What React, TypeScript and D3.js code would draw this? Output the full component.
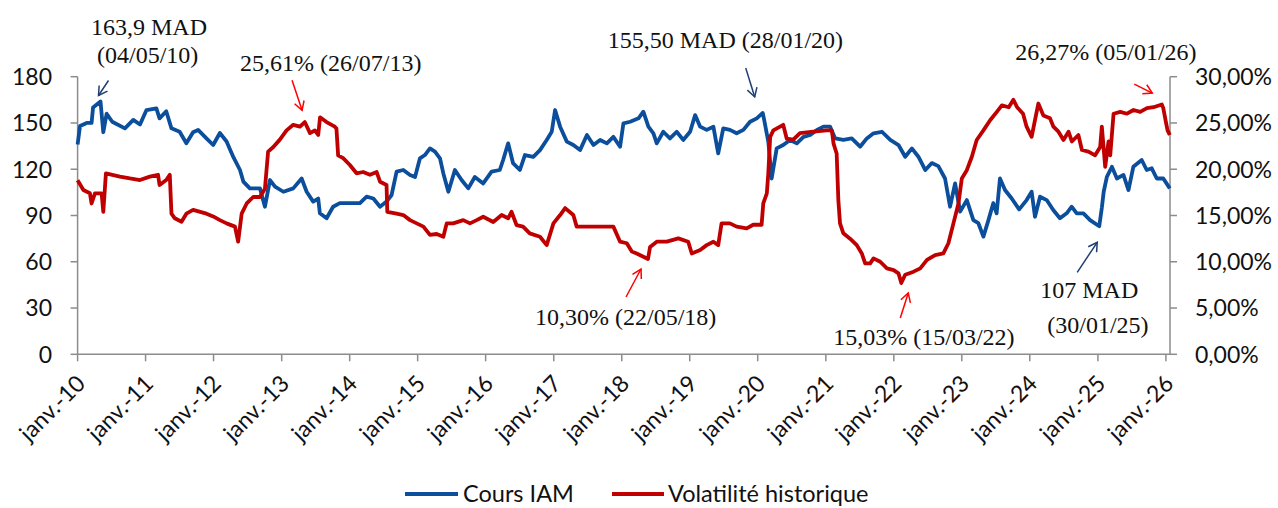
import * as d3 from 'd3';

// Cours IAM (MAD)
const COURS_IAM: [string, number][] = [
  ['2010-01-01', 136], ['2010-01-14', 148], ['2010-02-19', 150], ['2010-03-17', 150],
  ['2010-03-25', 160], ['2010-05-04', 163.9], ['2010-05-19', 144], ['2010-06-06', 156],
  ['2010-07-06', 150.8], ['2010-09-12', 146.5], ['2010-10-27', 152], ['2010-12-02', 149],
  ['2011-01-06', 158.4], ['2011-02-28', 159.5], ['2011-03-17', 153], ['2011-04-22', 157.6],
  ['2011-05-20', 146.5], ['2011-07-03', 144.3], ['2011-08-08', 136.8], ['2011-09-13', 144],
  ['2011-10-10', 145.5], ['2011-11-24', 140], ['2011-12-30', 135.7], ['2012-02-04', 143.5],
  ['2012-03-11', 138], ['2012-04-16', 128], ['2012-05-22', 119.5], ['2012-06-09', 112],
  ['2012-07-14', 107.6], ['2012-09-06', 107.6], ['2012-10-03', 95.7], ['2012-10-30', 113],
  ['2012-11-26', 108.7], ['2013-01-10', 105.4], ['2013-03-04', 107.6], ['2013-04-18', 114],
  ['2013-05-15', 105.4], ['2013-06-19', 99], ['2013-07-16', 101], ['2013-07-25', 91.4],
  ['2013-08-30', 88.2], ['2013-10-04', 95.7], ['2013-11-09', 98], ['2014-01-02', 98],
  ['2014-02-25', 98], ['2014-04-02', 102.2], ['2014-05-08', 101], ['2014-06-13', 95.7],
  ['2014-07-18', 99], ['2014-08-14', 103.3], ['2014-09-10', 118.4], ['2014-10-16', 119.5],
  ['2014-11-21', 116.3], ['2014-12-18', 115], ['2015-01-13', 127], ['2015-02-09', 129.2],
  ['2015-03-08', 133.5], ['2015-04-04', 131.4], ['2015-05-01', 127], ['2015-05-19', 117.3],
  ['2015-06-15', 105.4], ['2015-07-20', 119.5], ['2015-08-25', 113], ['2015-09-30', 107.6],
  ['2015-11-04', 115], ['2015-12-19', 110.8], ['2016-02-02', 118.4], ['2016-03-17', 119.5],
  ['2016-04-04', 126], ['2016-05-01', 136.8], ['2016-05-27', 124], ['2016-07-03', 119.5],
  ['2016-07-30', 129.2], ['2016-09-13', 128], ['2016-10-19', 132.4], ['2016-11-24', 139],
  ['2016-12-21', 144.3], ['2017-01-08', 158.4], ['2017-02-04', 147.6], ['2017-03-12', 137.9],
  ['2017-04-16', 135.7], ['2017-05-22', 132.4], ['2017-06-28', 142.2], ['2017-08-02', 135.7],
  ['2017-09-07', 139], ['2017-10-13', 136.8], ['2017-11-17', 141], ['2017-12-23', 134.6],
  ['2018-01-10', 149.8], ['2018-02-15', 150.8], ['2018-04-01', 153], ['2018-04-27', 157.3],
  ['2018-05-24', 147.6], ['2018-06-20', 143.3], ['2018-07-08', 136.8], ['2018-08-12', 144.3],
  ['2018-09-17', 140], ['2018-10-23', 144.3], ['2018-11-27', 139], ['2019-01-03', 144.3],
  ['2019-01-30', 155.1], ['2019-02-26', 147.6], ['2019-04-02', 145.5], ['2019-05-08', 147.6],
  ['2019-06-03', 130.3], ['2019-06-30', 146.5], ['2019-08-05', 145.5], ['2019-09-10', 143.3],
  ['2019-10-16', 145.5], ['2019-11-21', 150.8], ['2019-12-27', 153], ['2020-01-28', 156.5],
  ['2020-02-05', 151.9], ['2020-02-27', 137.9], ['2020-03-16', 114], ['2020-04-12', 133.5],
  ['2020-05-17', 135.7], ['2020-06-23', 139], ['2020-07-29', 136.8], ['2020-09-03', 141],
  ['2020-10-09', 142.2], ['2020-11-14', 145.5], ['2020-12-19', 147.6], ['2021-01-24', 147.6],
  ['2021-02-20', 140], ['2021-04-05', 139], ['2021-05-20', 140], ['2021-07-04', 134.6],
  ['2021-08-09', 140], ['2021-09-14', 143.3], ['2021-10-29', 144.3], ['2021-12-13', 139],
  ['2022-01-26', 135.7], ['2022-03-03', 128.1], ['2022-04-08', 133.5], ['2022-05-13', 128.1],
  ['2022-06-19', 119.5], ['2022-07-24', 124], ['2022-08-28', 122], ['2022-10-03', 114],
  ['2022-10-30', 95.7], ['2022-11-26', 110.8], ['2022-12-23', 92.5], ['2023-01-28', 100],
  ['2023-03-04', 87], ['2023-03-31', 85], ['2023-04-27', 76.3], ['2023-05-24', 87],
  ['2023-06-19', 98], ['2023-07-07', 91.4], ['2023-07-25', 114], ['2023-08-21', 106.5],
  ['2023-09-26', 101], ['2023-11-05', 94], ['2023-12-15', 100], ['2024-01-11', 105.4],
  ['2024-01-29', 89.2], ['2024-02-25', 102.2], ['2024-04-01', 100], ['2024-05-06', 93.6],
  ['2024-06-11', 88.2], ['2024-07-17', 91.4], ['2024-08-13', 95.7], ['2024-09-09', 91.4],
  ['2024-10-15', 91.4], ['2024-11-20', 87], ['2025-01-08', 83], ['2025-01-22', 95],
  ['2025-02-01', 105.4], ['2025-02-18', 115.1], ['2025-03-17', 121.6], ['2025-04-13', 114],
  ['2025-05-18', 116.3], ['2025-06-14', 106.5], ['2025-07-10', 121.6], ['2025-08-24', 126],
  ['2025-09-20', 119.5], ['2025-10-17', 120.6], ['2025-11-13', 114], ['2025-12-18', 114],
  ['2026-01-22', 107.6],
];

// Volatilité historique (%)
const VOLATILITE: [string, number][] = [
  ['2010-01-01', 18.8], ['2010-02-01', 17.75], ['2010-03-08', 17.4], ['2010-03-17', 16.3],
  ['2010-04-04', 17.4], ['2010-05-10', 17.4], ['2010-05-19', 15.4], ['2010-06-02', 19.56],
  ['2010-08-16', 19.2], ['2010-10-09', 19.0], ['2010-12-02', 18.83], ['2011-01-24', 19.2],
  ['2011-03-09', 19.4], ['2011-03-17', 18.3], ['2011-04-22', 18.83], ['2011-05-11', 19.4],
  ['2011-05-20', 15.2], ['2011-06-07', 14.7], ['2011-07-13', 14.33], ['2011-08-08', 15.2],
  ['2011-09-13', 15.6], ['2011-11-24', 15.2], ['2011-12-30', 14.9], ['2012-02-04', 14.5],
  ['2012-03-11', 14.15], ['2012-04-25', 13.8], ['2012-05-12', 12.17], ['2012-05-31', 15.2],
  ['2012-06-27', 16.3], ['2012-08-01', 17.0], ['2012-09-06', 17.0], ['2012-10-03', 17.9],
  ['2012-10-20', 21.9], ['2012-11-17', 22.4], ['2012-12-22', 23.2], ['2013-01-27', 24.2],
  ['2013-03-04', 24.8], ['2013-04-09', 24.6], ['2013-05-05', 25.1], ['2013-06-02', 23.9],
  ['2013-06-28', 24.2], ['2013-07-16', 23.7], ['2013-07-26', 25.61], ['2013-08-30', 25.1],
  ['2013-10-13', 24.6], ['2013-10-22', 24.4], ['2013-10-31', 21.5], ['2013-11-27', 21.2],
  ['2014-01-02', 20.46], ['2014-02-07', 19.56], ['2014-03-14', 19.7], ['2014-04-20', 19.4],
  ['2014-05-26', 19.7], ['2014-06-13', 18.65], ['2014-07-18', 18.3], ['2014-07-22', 15.4],
  ['2014-09-10', 15.2], ['2014-10-16', 15.05], ['2014-11-21', 14.5], ['2014-12-27', 14.15],
  ['2015-02-01', 13.8], ['2015-03-08', 12.9], ['2015-04-13', 13.0], ['2015-05-19', 12.7],
  ['2015-06-06', 14.15], ['2015-07-11', 14.15], ['2015-09-03', 14.5], ['2015-10-09', 14.15],
  ['2015-11-14', 14.5], ['2015-12-19', 14.87], ['2016-02-11', 14.3], ['2016-03-27', 15.05],
  ['2016-05-01', 14.7], ['2016-05-19', 15.4], ['2016-06-15', 13.97], ['2016-07-20', 13.8],
  ['2016-08-25', 13.07], ['2016-10-19', 12.7], ['2016-11-24', 11.8], ['2016-12-30', 14.15],
  ['2017-02-04', 15.05], ['2017-03-03', 15.8], ['2017-04-16', 15.05], ['2017-05-04', 13.8],
  ['2017-11-17', 13.8], ['2017-12-23', 12.17], ['2018-01-28', 12.0], ['2018-02-24', 11.1],
  ['2018-03-22', 10.9], ['2018-05-22', 10.3], ['2018-06-02', 11.6], ['2018-07-08', 12.17],
  ['2018-08-31', 12.17], ['2018-11-01', 12.53], ['2018-12-24', 12.17], ['2019-01-12', 10.9],
  ['2019-02-26', 11.27], ['2019-04-02', 11.8], ['2019-05-08', 12.17], ['2019-06-03', 11.8],
  ['2019-06-21', 14.15], ['2019-08-05', 14.15], ['2019-09-10', 13.8], ['2019-11-03', 13.6],
  ['2019-12-08', 14.0], ['2020-01-22', 14.0], ['2020-01-31', 16.3], ['2020-02-19', 17.4],
  ['2020-02-27', 19.56], ['2020-03-08', 23.5], ['2020-03-25', 24.2], ['2020-05-17', 24.8],
  ['2020-06-05', 23.3], ['2020-07-10', 23.2], ['2020-08-15', 23.9], ['2020-10-26', 24.06],
  ['2021-01-06', 24.2], ['2021-02-02', 24.2], ['2021-02-11', 22.8], ['2021-02-28', 21.7],
  ['2021-03-09', 16.7], ['2021-03-18', 14.15], ['2021-04-05', 13.07], ['2021-05-11', 12.5],
  ['2021-06-16', 11.8], ['2021-07-13', 10.9], ['2021-07-31', 9.83], ['2021-08-27', 9.83],
  ['2021-09-14', 10.37], ['2021-10-20', 10.0], ['2021-11-25', 9.29], ['2021-12-31', 9.1],
  ['2022-01-26', 8.75], ['2022-02-10', 7.7], ['2022-03-03', 8.6], ['2022-04-17', 8.93],
  ['2022-05-23', 9.29], ['2022-06-28', 10.2], ['2022-08-11', 10.73], ['2022-09-24', 10.9],
  ['2022-10-21', 12.0], ['2022-11-17', 14.15], ['2022-12-14', 16.3], ['2023-01-01', 19.0],
  ['2023-01-28', 19.9], ['2023-02-24', 21.35], ['2023-03-22', 23.16], ['2023-04-27', 24.2],
  ['2023-06-02', 25.3], ['2023-07-08', 26.2], ['2023-08-04', 26.9], ['2023-09-10', 26.7],
  ['2023-10-05', 27.5], ['2023-10-25', 26.7], ['2023-11-26', 26.0], ['2023-12-15', 24.6],
  ['2024-01-11', 23.5], ['2024-01-29', 25.3], ['2024-02-16', 27.1], ['2024-03-14', 25.8],
  ['2024-04-19', 25.5], ['2024-05-07', 24.6], ['2024-06-03', 24.06], ['2024-06-30', 23.16],
  ['2024-07-27', 24.06], ['2024-08-14', 23.0], ['2024-09-18', 23.7], ['2024-10-07', 22.08],
  ['2024-11-11', 21.9], ['2024-12-17', 21.5], ['2025-01-13', 22.4], ['2025-01-22', 24.6],
  ['2025-02-09', 20.27], ['2025-02-27', 23.0], ['2025-03-08', 21.5], ['2025-03-26', 26.0],
  ['2025-05-01', 26.2], ['2025-06-06', 26.0], ['2025-07-11', 26.4], ['2025-08-16', 26.2],
  ['2025-09-21', 26.6], ['2025-10-27', 26.7], ['2025-12-10', 27.0], ['2025-12-18', 26.6],
  ['2026-01-01', 25.1], ['2026-01-10', 24.2], ['2026-01-22', 23.7],
];

const LEFT_TICKS = [0, 30, 60, 90, 120, 150, 180];
const RIGHT_TICKS = [0, 5, 10, 15, 20, 25, 30];
const X_YEARS = d3.range(2010, 2027);

// callouts: which series point they point at, then text
const CALLOUTS = [
  { series: 'cours', date: '2010-05-04', lines: ['163,9 MAD', '(04/05/10)'] },
  { series: 'vol', date: '2013-07-26', lines: ['25,61% (26/07/13)'] },
  { series: 'cours', date: '2020-01-28', lines: ['155,50 MAD (28/01/20)'] },
  { series: 'vol', date: '2018-05-22', lines: ['10,30% (22/05/18)'] },
  { series: 'vol', date: '2022-02-10', lines: ['15,03% (15/03/22)'] },
  { series: 'cours', date: '2025-01-08', lines: ['107 MAD', '(30/01/25)'] },
  { series: 'vol', date: '2025-12-10', lines: ['26,27% (05/01/26)'] },
];
// layout of each callout relative to its point: arrow tip, shaft vector, text origins
const CALLOUT_LAYOUT = [
  { tip: [-2, -6], shaft: [10, -15], text: [[-9.5, -66.5], [-3.5, -38.5]] },
  { tip: [-18, -7], shaft: [-10, -30], text: [[-80, -46]] },
  { tip: [-8, -16], shaft: [-9, -29], text: [[-155, -65]] },
  { tip: [-7, 10], shaft: [-15, 28], text: [[-113, 66]] },
  { tip: [7, 10], shaft: [-8, 25], text: [[-68, 62]] },
  { tip: [-2, 16], shaft: [-20, 30], text: [[-59, 72], [-52, 107]] },
  { tip: [-9.5, -11.4], shaft: [-18, -9], text: [[-146.5, -44]] },
];

const BLUE = '#0b4e9b';
const RED = '#c00000';
const AXIS = '#8c8c8c';
const SANS = 'Lato, "Open Sans", sans-serif';
const SERIF = '"Liberation Serif", "DejaVu Serif", serif';

const W = 1278;
const H = 508;
const parse = d3.timeParse('%Y-%m-%d');

export default function App() {
  const x = d3.scaleTime()
    .domain([parse('2010-01-01')!, parse('2026-01-23')!])
    .range([77.6, 1170]);
  const yL = d3.scaleLinear().domain([0, 180]).range([354.3, 76.7]);
  const yR = d3.scaleLinear().domain([0, 30]).range([354.3, 76.7]);

  const lineL = d3.line<[string, number]>()
    .x(d => x(parse(d[0])!))
    .y(d => yL(d[1]));
  const lineR = d3.line<[string, number]>()
    .x(d => x(parse(d[0])!))
    .y(d => yR(d[1]));

  const x0 = x.range()[0];
  const x1 = x.range()[1];
  const yBase = yL(0);

  const arrowHead = (tx: number, ty: number, sx: number, sy: number) => {
    // open head at the tip, pointing away from the shaft start
    const ang = Math.atan2(ty - sy, tx - sx);
    const len = 10;
    const spread = Math.PI / 6;
    const a1 = ang + Math.PI - spread;
    const a2 = ang + Math.PI + spread;
    return `M${tx + len * Math.cos(a1)},${ty + len * Math.sin(a1)}L${tx},${ty}L${tx + len * Math.cos(a2)},${ty + len * Math.sin(a2)}`;
  };

  return (
    <svg width={W} height={H} style={{ display: 'block', background: '#fff' }}>
      <style>{`body{margin:0}`}</style>

      {/* axes */}
      <g stroke={AXIS} strokeWidth={1.5} fill="none">
        <line x1={x0} x2={x0} y1={yL(180)} y2={yBase} />
        <line x1={x1} x2={x1} y1={yR(30)} y2={yBase} />
        <line x1={x0} x2={x1} y1={yBase} y2={yBase} />
        {LEFT_TICKS.map(t => (
          <line key={'l' + t} x1={x0 - 7} x2={x0} y1={yL(t)} y2={yL(t)} />
        ))}
        {RIGHT_TICKS.map(t => (
          <line key={'r' + t} x1={x1} x2={x1 + 7} y1={yR(t)} y2={yR(t)} />
        ))}
        {X_YEARS.map(yr => {
          const xx = x(new Date(yr, 0, 1));
          return <line key={'x' + yr} x1={xx} x2={xx} y1={yBase} y2={yBase + 7} />;
        })}
      </g>

      <g fontFamily={SANS} fontSize={23} fill="#111">
        {LEFT_TICKS.map(t => (
          <text key={t} x={52} y={yL(t)} dy="0.36em" textAnchor="end">{t}</text>
        ))}
        {RIGHT_TICKS.map(t => (
          <text key={t} x={1195} y={yR(t)} dy="0.36em">{t.toFixed(2).replace('.', ',')}%</text>
        ))}
        {X_YEARS.map(yr => {
          const xx = x(new Date(yr, 0, 1));
          return (
            <text key={yr} transform={`translate(${xx + 9},${385}) rotate(-45)`} textAnchor="end">
              {`janv.-${String(yr).slice(2)}`}
            </text>
          );
        })}
      </g>

      {/* series */}
      <path d={lineL(COURS_IAM)!} fill="none" stroke={BLUE} strokeWidth={3.8} strokeLinejoin="round" />
      <path d={lineR(VOLATILITE)!} fill="none" stroke={RED} strokeWidth={3.8} strokeLinejoin="round" />

      {/* callouts */}
      <g fontFamily={SERIF} fontSize={24} fill="#111">
        {CALLOUTS.map((c, i) => {
          const data = c.series === 'cours' ? COURS_IAM : VOLATILITE;
          const pt = data.find(d => d[0] === c.date)!;
          const px = x(parse(pt[0])!);
          const py = c.series === 'cours' ? yL(pt[1]) : yR(pt[1]);
          const lay = CALLOUT_LAYOUT[i];
          const tx = px + lay.tip[0];
          const ty = py + lay.tip[1];
          const sx = tx + lay.shaft[0];
          const sy = ty + lay.shaft[1];
          const col = c.series === 'cours' ? '#1f3f73' : '#ff0000';
          return (
            <g key={i}>
              <path d={`M${sx},${sy}L${tx},${ty}`} stroke={col} strokeWidth={1.5} fill="none" />
              <path d={arrowHead(tx, ty, sx, sy)} stroke={col} strokeWidth={1.5} fill="none" />
              {c.lines.map((ln, j) => (
                <text key={j} x={px + lay.text[j][0]} y={py + lay.text[j][1]}>{ln}</text>
              ))}
            </g>
          );
        })}
      </g>

      {/* legend */}
      <g fontFamily={SANS} fontSize={23.5} fill="#111">
        <line x1={405} x2={458} y1={494} y2={494} stroke={BLUE} strokeWidth={4} />
        <text x={463} y={494} dy="0.34em">Cours IAM</text>
        <line x1={612} x2={664} y1={494} y2={494} stroke={RED} strokeWidth={4} />
        <text x={668} y={494} dy="0.34em">Volatilité historique</text>
      </g>
    </svg>
  );
}
